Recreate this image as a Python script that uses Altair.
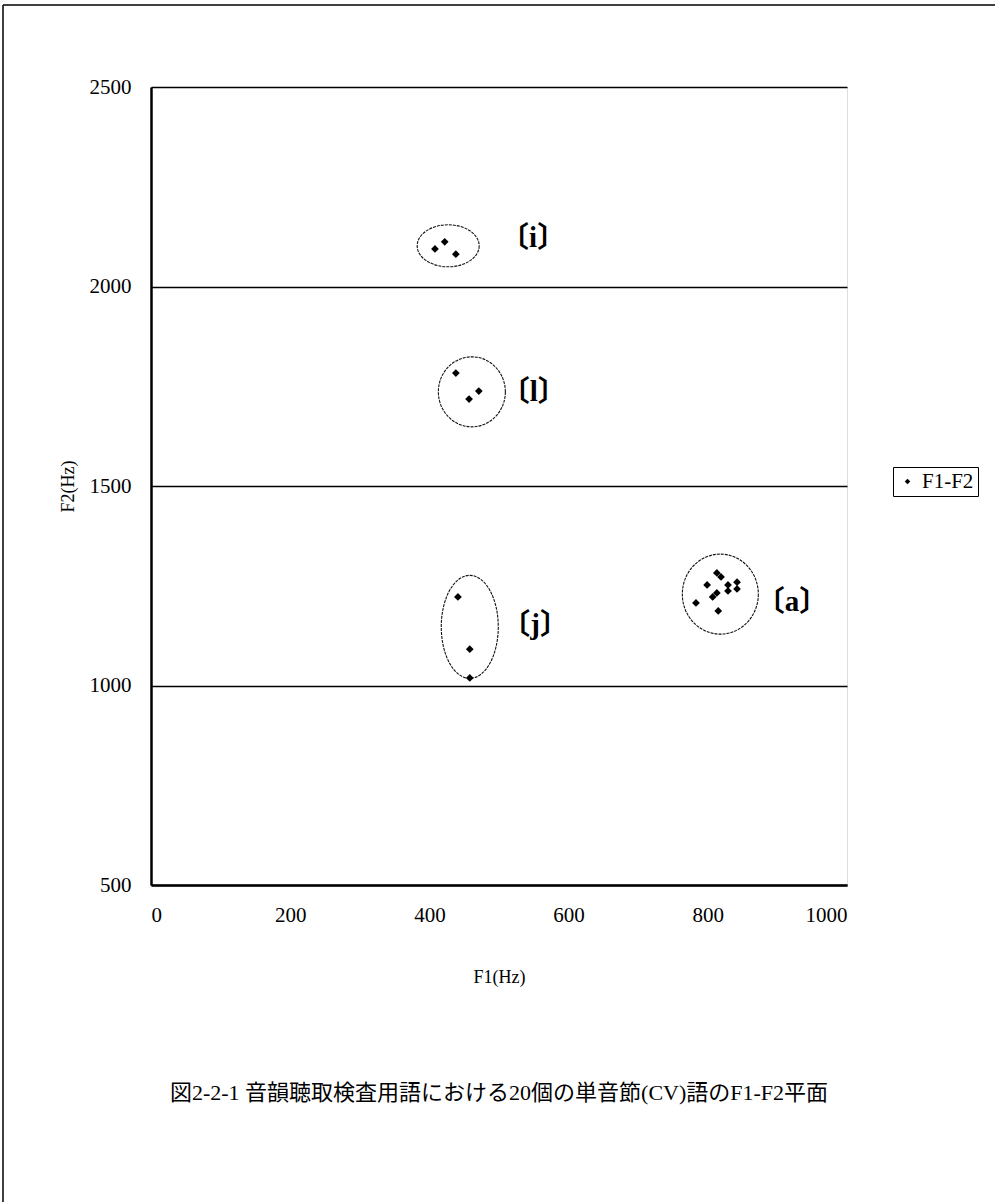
import altair as alt
import pandas as pd

# ---- data ----
f1 = [408, 422, 438,
      438, 457, 471,
      441, 458, 458,
      783, 799, 807, 813, 815, 813, 819, 829, 829, 842, 842]
f2 = [2094, 2112, 2081,
      1783, 1718, 1738,
      1222, 1091, 1019,
      1207, 1252, 1222, 1232, 1187, 1282, 1272, 1252, 1237, 1259, 1242]
series_name = "F1-F2"

vowel_labels = ["〔i〕", "〔l〕", "〔j〕", "〔a〕"]
label_f1 = [549, 550, 552, 921]
label_f2 = [2122, 1736, 1152, 1209]

ellipse_f1 = [427, 461, 458, 818]
ellipse_f2 = [2102, 1736, 1147, 1229]

x_ticks = [0, 200, 400, 600, 800, 1000]
y_ticks = [500, 1000, 1500, 2000, 2500]

caption = "図2-2-1 音韻聴取検査用語における20個の単音節(CV)語のF1-F2平面"

# ---- styles (pixel sizes of the ellipses) ----
ellipse_w = [62, 67, 57, 76]
ellipse_h = [42, 70, 103, 80]


def ellipse_path(w, h):
    m = max(w, h)
    a, b = w / m, h / m
    k = 0.5523
    return (f"M {a} 0 C {a} {k*b} {k*a} {b} 0 {b} "
            f"C {-k*a} {b} {-a} {k*b} {-a} 0 "
            f"C {-a} {-k*b} {-k*a} {-b} 0 {-b} "
            f"C {k*a} {-b} {a} {-k*b} {a} 0 Z")


pts = pd.DataFrame({"F1": f1, "F2": f2, "series": [series_name] * len(f1)})
labs = pd.DataFrame({"F1": label_f1, "F2": label_f2, "label": vowel_labels})
ells = pd.DataFrame({
    "F1": ellipse_f1, "F2": ellipse_f2,
    "path": [ellipse_path(w, h) for w, h in zip(ellipse_w, ellipse_h)],
    "sz": [max(w, h) ** 2 for w, h in zip(ellipse_w, ellipse_h)],
})
cap = pd.DataFrame({"text": [caption]})

SERIF = "Liberation Serif"
MIX = "Liberation Serif, Noto Sans CJK JP"

xs = alt.Scale(domain=[0, 1000], nice=False)
ys = alt.Scale(domain=[500, 2500], nice=False)

x_axis = alt.Axis(values=x_ticks, format="d", title="F1(Hz)", grid=False, ticks=False,
                  labelFont=SERIF, labelFontSize=21, labelPadding=19,
                  titleFont=SERIF, titleFontSize=18, titleFontWeight="normal",
                  titlePadding=43, domainColor="black", domainWidth=2.5,
                  labelColor="black", titleColor="black")
y_axis = alt.Axis(values=y_ticks, format="d", title="F2(Hz)", grid=True, gridColor="black",
                  gridWidth=1.4, gridOpacity=1, ticks=False,
                  labelFont=SERIF, labelFontSize=21, labelPadding=20,
                  titleFont=SERIF, titleFontSize=18, titleFontWeight="normal",
                  titlePadding=12, domainColor="black", domainWidth=2.5,
                  labelColor="black", titleColor="black")

points = alt.Chart(pts).mark_point(shape="diamond", filled=True, size=60, opacity=1).encode(
    x=alt.X("F1:Q", scale=xs, axis=x_axis),
    y=alt.Y("F2:Q", scale=ys, axis=y_axis),
    color=alt.Color("series:N", scale=alt.Scale(range=["black"]),
                    legend=alt.Legend(title=None, orient="none", legendX=742, legendY=380,
                                      strokeColor="black", fillColor="white", padding=4,
                                      symbolType="diamond", symbolSize=30,
                                      labelFont=SERIF, labelFontSize=21,
                                      labelColor="black", symbolStrokeWidth=0)),
)

ellipses = alt.Chart(ells).mark_point(filled=False, stroke="#111", strokeWidth=1.1,
                                      strokeDash=[3, 1], opacity=1).encode(
    x=alt.X("F1:Q", scale=xs),
    y=alt.Y("F2:Q", scale=ys),
    shape=alt.Shape("path:N", scale=None),
    size=alt.Size("sz:Q", scale=None),
)

texts = alt.Chart(labs).mark_text(font=MIX, fontSize=29, fontWeight="bold", color="black").encode(
    x=alt.X("F1:Q", scale=xs),
    y=alt.Y("F2:Q", scale=ys),
    text="label:N",
)

caption_text = alt.Chart(cap).mark_text(font=MIX, fontSize=22, color="black",
                                        align="center", baseline="middle").encode(
    x=alt.value(348), y=alt.value(1006), text="text:N")

frame_left = alt.Chart(pd.DataFrame({"a": [0]})).mark_rule(color="black", strokeWidth=1.5).encode(
    x=alt.value(-148), y=alt.value(-82), y2=alt.value(1115))
frame_top = alt.Chart(pd.DataFrame({"a": [0]})).mark_rule(color="black", strokeWidth=1.5).encode(
    x=alt.value(-148), x2=alt.value(844), y=alt.value(-82))

chart = alt.layer(frame_left, frame_top, ellipses, points, texts, caption_text).properties(
    width=696, height=798,
    autosize=alt.AutoSizeParams(type="none"),
    padding={"left": 151, "top": 87, "right": 148, "bottom": 317},
).configure_view(stroke="black", strokeWidth=1.5).configure(background="white")

chart.save("out.html", embed_options={"renderer": "svg", "actions": False})
